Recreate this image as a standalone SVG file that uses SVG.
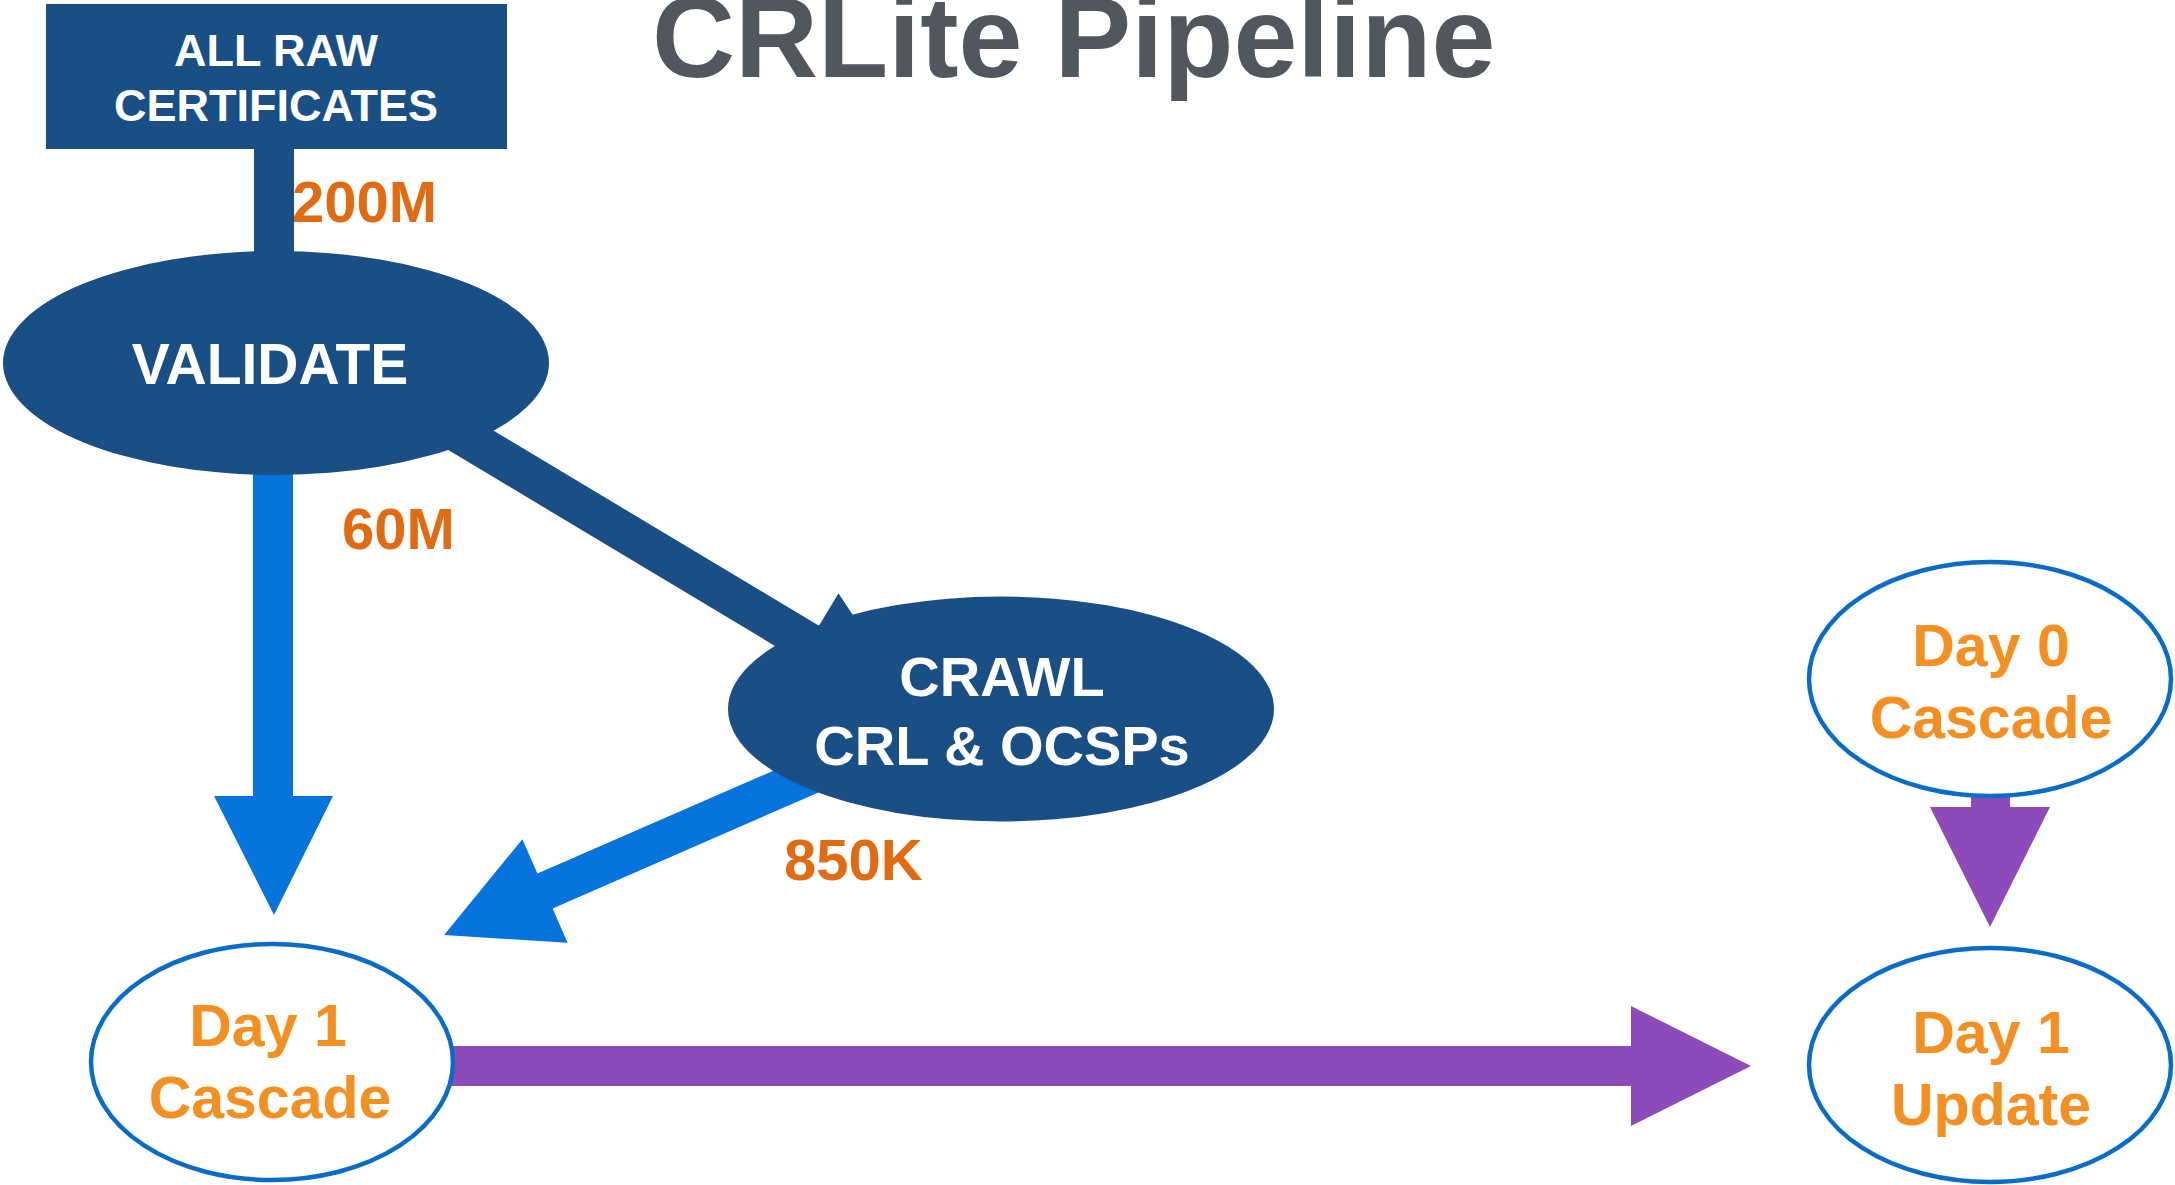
<svg xmlns="http://www.w3.org/2000/svg" width="2175" height="1185" viewBox="0 0 2175 1185">
<style>
.dark{fill:#1a4f85}
.blue{fill:#0773dc}
.purple{fill:#8c4bb8}
.open{fill:#ffffff;stroke:#0a6cc9;stroke-width:4.5}
.wt{font-family:"Liberation Sans",Arial,sans-serif;font-weight:bold;fill:#ffffff;text-anchor:middle}
.num{font-family:"Liberation Sans",Arial,sans-serif;font-weight:bold;fill:#e06b12;font-size:58px}
.day{font-family:"Liberation Sans",Arial,sans-serif;font-weight:bold;fill:#f39021;font-size:59px;text-anchor:middle}
.title{font-family:"Liberation Sans",Arial,sans-serif;font-weight:bold;fill:#52575e;font-size:115px}
</style>
<rect width="2175" height="1185" fill="#ffffff"/>
<text class="title" x="652" y="77">CRLite Pipeline</text>
<g id="connectors">
<rect class="dark" x="254" y="140" width="40" height="130"/>
<polygon class="dark" points="390.5,368.8 819,625.8 838.5,593.2 911.5,704.6 778.9,692.6 798.4,660 369.9,403"/>
<polygon class="blue" points="253,420 293,420 293,796 333,796 274,915 214,796 253,796"/>
<polygon class="blue" points="812.5,753.6 537.4,873.6 522.4,839.2 444.1,935 567.6,942.8 552.6,908.4 827.7,788.4"/>
<polygon class="purple" points="440,1046 1631,1046 1631,1006 1751,1066 1631,1126 1631,1086 440,1086"/>
<polygon class="purple" points="1971,780 2010,780 2010,807 2050,807 1990,927 1930,807 1971,807"/>
<text class="num" x="292" y="222">200M</text>
<text class="num" x="342" y="549">60M</text>
<text class="num" x="784" y="880">850K</text>
</g>
<g id="all-raw">
<rect class="dark" x="46" y="4" width="461" height="145"/>
<text class="wt" x="276" y="66" font-size="45">ALL RAW</text>
<text class="wt" x="276" y="121" font-size="45">CERTIFICATES</text>
</g>
<g id="validate">
<ellipse class="dark" cx="276" cy="363" rx="273" ry="112"/>
<text class="wt" x="270" y="384" font-size="57">VALIDATE</text>
</g>
<g id="crawl">
<ellipse class="dark" cx="1001" cy="709" rx="273" ry="112.5"/>
<text class="wt" x="1002" y="696" font-size="56">CRAWL</text>
<text class="wt" x="1002" y="765" font-size="56">CRL &amp; OCSPs</text>
</g>
<g id="day1-cascade">
<ellipse class="open" cx="272" cy="1062" rx="181" ry="118"/>
<text class="day" x="268" y="1046">Day 1</text>
<text class="day" x="270" y="1118">Cascade</text>
</g>
<g id="day0-cascade">
<ellipse class="open" cx="1990" cy="679" rx="181" ry="117"/>
<text class="day" x="1991" y="666">Day 0</text>
<text class="day" x="1991" y="738">Cascade</text>
</g>
<g id="day1-update">
<ellipse class="open" cx="1990" cy="1065" rx="181" ry="117"/>
<text class="day" x="1991" y="1053">Day 1</text>
<text class="day" x="1991" y="1125">Update</text>
</g>
</svg>
